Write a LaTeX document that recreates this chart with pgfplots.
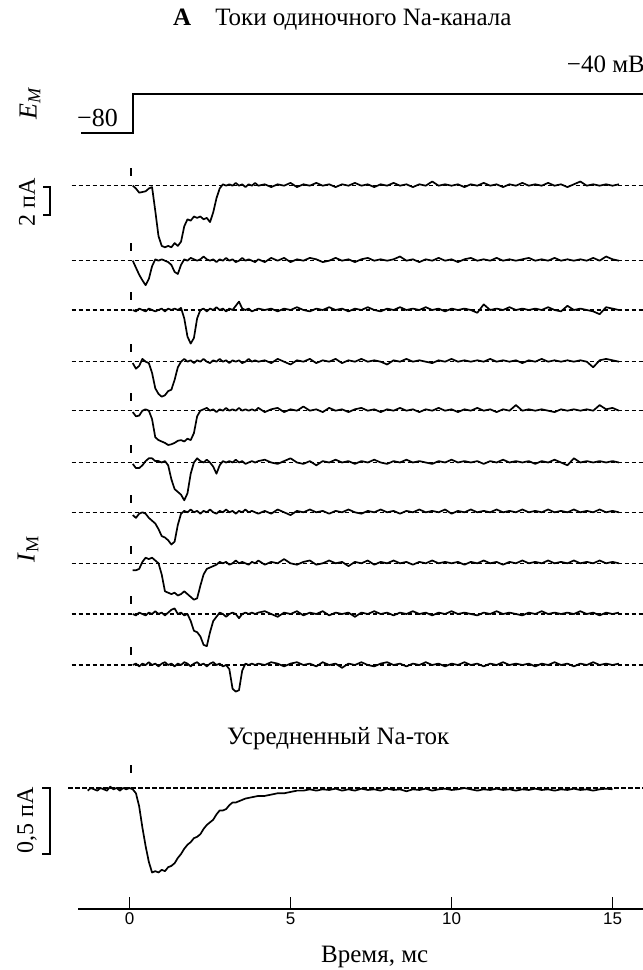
\documentclass[border=0pt]{standalone}
\usepackage{fontspec}
\setmainfont{Liberation Serif}
\setsansfont{Liberation Sans}
\usepackage{pgfplots}
\pgfplotsset{compat=1.18}
\usepackage{pgfplotstable}

% single-channel currents, pA (10 sweeps)
\pgfplotstableread{
t    a     b     c     d     e     f     g     h     i     j
0.1  0.0   0.0   0.0  -0.1  -0.1  -0.1  -0.2  -0.5   0.0   0.0
0.2 -0.2  -0.5  -0.1  -0.5  -0.4  -0.4  -0.4  -0.5  -0.1   0.1
0.3 -0.5  -1.0   0.1  -0.3  -0.35 -0.4  -0.1  -0.4   0.1  -0.1
0.4 -0.45 -1.4   0.0   0.2   0.0  -0.2   0.0   0.1   0.0   0.1
0.5 -0.4  -1.75 -0.1   0.0   0.1   0.1  -0.1   0.4  -0.1   0.0
0.6 -0.2  -1.3   0.1  -0.1   0.0   0.3  -0.4   0.3   0.1   0.2
0.7 -0.1  -0.4   0.0  -0.8  -0.6   0.3  -0.6   0.4   0.0   0.0
0.8 -1.8   0.1  -0.1  -1.9  -1.9   0.1  -0.8   0.2   0.2   0.1
0.9 -3.6   0.0   0.0  -2.3  -2.1   0.1  -1.2   0.0   0.0  -0.1
1.0 -4.3   0.1   0.1  -2.5  -2.2   0.0  -1.7  -0.8   0.1   0.1
1.1 -4.4   0.0  -0.1  -2.4  -2.3   0.1  -1.8  -2.0  -0.1   0.2
1.2 -4.3  -0.1   0.1  -2.1  -2.45 -0.2  -2.0  -2.1   0.1   0.0
1.3 -4.4  -0.3   0.0  -2.0  -2.4  -1.2  -2.3  -2.2   0.3   0.1
1.4 -4.1  -0.8   0.1  -1.3  -2.3  -1.9  -2.1  -2.1   0.4  -0.1
1.5 -4.3  -0.95  0.0  -0.4  -2.15 -2.1  -0.9  -2.3   0.0   0.1
1.6 -4.0  -0.3   0.15  0.0  -2.1  -2.3  -0.1  -2.2   0.1   0.0
1.7 -2.9   0.1  -0.6   0.2  -2.2  -2.7   0.1  -2.0  -0.1   0.2
1.8 -2.4   0.0  -1.9   0.0  -2.0  -2.2   0.0  -2.2   0.0   0.1
1.9 -2.5   0.2  -2.4   0.1  -2.1  -0.8   0.2  -2.4  -0.5  -0.1
2.0 -2.2   0.1  -2.0  -0.1  -1.6   0.0   0.0  -2.6  -1.2   0.1
2.1 -2.3   0.0  -0.6   0.1  -0.4   0.3   0.1  -2.5  -1.3   0.2
2.2 -2.2   0.1   0.0   0.0   0.0   0.1  -0.1  -1.6  -1.6   0.0
2.3 -2.4   0.3   0.1   0.2   0.1   0.0   0.1  -0.8  -2.2   0.1
2.4 -2.3   0.1  -0.1   0.0   0.2   0.2   0.0  -0.4  -2.3  -0.1
2.5 -2.6   0.0   0.1  -0.1   0.0   0.0   0.2  -0.3  -1.3   0.1
2.6 -1.9   0.1   0.0   0.1   0.1  -0.3   0.0  -0.2  -0.5   0.2
2.7 -0.9  -0.1   0.2   0.0  -0.1  -0.8  -0.1  -0.1  -0.2   0.0
2.8 -0.2   0.1   0.0   0.2   0.1  -0.2   0.1   0.1   0.1   0.1
2.9  0.1   0.0   0.1   0.0   0.0   0.1   0.0   0.0   0.0  -0.1
3.0  0.0   0.2  -0.1   0.1   0.2   0.0   0.2   0.1  -0.2   0.0
3.1  0.1   0.0   0.1  -0.1   0.0   0.1   0.0  -0.1   0.0  -0.3
3.2  0.0   0.1   0.0   0.1   0.1   0.0   0.1   0.0   0.1  -1.7
3.3  0.2  -0.1   0.3   0.0   0.0   0.2  -0.1   0.2   0.0  -1.9
3.4  0.0   0.0   0.6   0.1   0.2   0.0   0.1   0.0  -0.3  -1.8
3.5  0.1   0.2   0.1  -0.1   0.0   0.1   0.0   0.1   0.0  -0.4
3.6 -0.1   0.0   0.0   0.0   0.1  -0.1   0.2   0.0   0.1   0.1
3.7  0.1   0.1   0.1   0.2   0.0   0.0   0.0  -0.1   0.0   0.0
3.8  0.0   0.0  -0.1   0.0   0.1   0.1   0.1   0.1   0.1   0.1
3.9  0.2  -0.1   0.0   0.1   0.0   0.0   0.0   0.0   0.0   0.0
4.0  0.0   0.1   0.1   0.0   0.2   0.1  -0.1   0.2   0.1   0.1
4.2  0.1  -0.1   0.0   0.1  -0.1   0.2   0.1  -0.1   0.2   0.0
4.4 -0.1   0.2   0.1  -0.1   0.1   0.0  -0.1   0.1   0.0   0.2
4.6  0.1   0.0  -0.1   0.2   0.2  -0.1   0.2   0.0  -0.2   0.1
4.8  0.0   0.2   0.1   0.0  -0.1   0.1   0.0   0.3   0.1  -0.1
5.0  0.2  -0.1   0.0  -0.2   0.1   0.3  -0.2   0.0   0.0   0.1
5.2 -0.1   0.1   0.2   0.1   0.0   0.0   0.1  -0.1   0.2   0.2
5.4  0.1   0.0   0.0   0.0   0.3  -0.1   0.0   0.1  -0.1   0.0
5.6  0.0   0.2  -0.1   0.2   0.0   0.1   0.2   0.2   0.1   0.1
5.8  0.2   0.1   0.1  -0.1   0.1  -0.2   0.0  -0.1   0.0  -0.1
6.0  0.0  -0.1   0.0   0.1  -0.1   0.1   0.1   0.0   0.2   0.2
6.2  0.1   0.0   0.2   0.0   0.2   0.0  -0.1   0.2  -0.1   0.0
6.4 -0.1   0.2   0.0   0.2   0.0   0.2   0.1   0.0   0.1   0.1
6.6  0.1   0.0   0.1  -0.1   0.1   0.0   0.0   0.1   0.0  -0.2
6.8  0.0   0.1  -0.1   0.1  -0.1   0.1   0.2  -0.2   0.1   0.1
7.0  0.2  -0.1   0.1   0.0   0.1  -0.1   0.0   0.1  -0.2   0.0
7.2  0.0   0.1   0.0   0.2   0.2   0.1  -0.1   0.0   0.1   0.2
7.4  0.1   0.2   0.2   0.0   0.0   0.0   0.1   0.2   0.0   0.0
7.6 -0.1   0.0   0.0   0.1   0.1   0.2   0.0  -0.1   0.2  -0.1
7.8  0.1   0.1  -0.1   0.0  -0.1   0.0   0.2   0.1   0.0   0.1
8.0  0.0   0.0   0.1  -0.2   0.1  -0.1   0.0   0.0   0.1   0.2
8.2  0.2   0.1   0.0   0.1   0.0   0.1   0.1   0.2  -0.1   0.0
8.4  0.0   0.3   0.2   0.0   0.2   0.0  -0.1   0.0   0.1   0.1
8.6  0.1   0.0   0.0   0.2   0.0   0.2   0.1   0.1   0.0  -0.1
8.8 -0.1   0.1   0.1   0.0   0.1   0.0   0.0  -0.1   0.2   0.1
9.0  0.1  -0.1   0.0   0.1  -0.1   0.1   0.2   0.1   0.0   0.0
9.2  0.0   0.1   0.2   0.0   0.1   0.0   0.0   0.0   0.1   0.2
9.4  0.3   0.0   0.0  -0.1   0.0  -0.1   0.1   0.2  -0.1   0.0
9.6  0.0   0.2   0.1   0.1   0.2   0.1   0.0   0.0   0.1   0.1
9.8  0.1   0.0  -0.1   0.0   0.0   0.0   0.2   0.1   0.0  -0.1
10.0 0.0   0.1   0.1   0.2   0.1   0.2  -0.1   0.0   0.2   0.1
10.2 0.1  -0.1   0.0   0.0  -0.1   0.0   0.1   0.1   0.0   0.0
10.4 -0.1  0.1   0.1   0.1   0.1   0.1   0.0  -0.1   0.1   0.2
10.6 0.1   0.2   0.0   0.0   0.0   0.0   0.2   0.1   0.0   0.0
10.8 0.0   0.0  -0.2   0.1   0.2   0.1   0.0   0.0  -0.1   0.1
11.0 0.2   0.1   0.4   0.0   0.0  -0.1   0.1   0.2   0.1  -0.1
11.2 0.0   0.0   0.0   0.2   0.1   0.1   0.0   0.0   0.0   0.1
11.4 0.1   0.2   0.1   0.0  -0.1   0.0   0.2   0.1   0.2   0.0
11.6 -0.1  0.0   0.0   0.1   0.1   0.2   0.0  -0.1   0.0   0.2
11.8 0.1   0.1   0.2   0.0   0.0   0.0   0.1   0.1   0.1   0.0
12.0 0.0   0.0   0.0   0.1   0.4   0.1   0.0   0.0   0.0   0.1
12.2 0.2   0.1   0.1  -0.1   0.0   0.0   0.2   0.2  -0.1   0.0
12.4 0.0   0.2   0.0   0.1   0.1   0.1   0.0   0.0   0.1   0.1
12.6 0.1   0.0   0.1   0.0   0.0  -0.1   0.1   0.1   0.0  -0.1
12.8 0.0   0.1   0.0   0.2   0.1   0.1   0.0   0.0   0.2   0.1
13.0 0.2   0.0   0.2   0.0   0.0   0.0   0.2   0.2   0.0   0.0
13.2 0.0   0.2   0.0   0.1  -0.1   0.2   0.0   0.0   0.1   0.2
13.4 0.1   0.0  -0.1   0.0   0.1   0.0   0.1   0.1   0.0   0.0
13.6 -0.1  0.1   0.3   0.1   0.0  -0.2   0.0   0.0   0.1   0.1
13.8 0.1   0.0   0.0   0.0   0.1   0.3   0.2   0.2   0.0  -0.1
14.0 0.3   0.1   0.1   0.1   0.0   0.0   0.0   0.0   0.2   0.1
14.2 0.0   0.0   0.0   0.0   0.1   0.1   0.1   0.1   0.0   0.0
14.4 0.1   0.2  -0.1  -0.4   0.0   0.0   0.0   0.0   0.1   0.2
14.6 0.0   0.0  -0.3   0.1   0.4   0.1   0.2   0.2  -0.1   0.0
14.8 0.1   0.3   0.2   0.2   0.1   0.0   0.0   0.0   0.1   0.1
15.0 0.0   0.1   0.1   0.1   0.2   0.1   0.1   0.1   0.0   0.0
15.2 0.1   0.0   0.0   0.0   0.0   0.0   0.0   0.0   0.1   0.1
}\traces

% averaged Na current, pA
\pgfplotstableread{
t I
-1.3 -0.02
-1.2 0.0
-1.1 -0.01
-1.0 -0.02
-0.9 0.0
-0.8 -0.01
-0.7 -0.02
-0.6 0.01
-0.5 -0.01
-0.4 0.0
-0.3 -0.02
-0.2 0.0
-0.1 -0.01
0.0 0.0
0.1 -0.01
0.2 -0.04
0.3 -0.14
0.4 -0.30
0.5 -0.44
0.6 -0.56
0.7 -0.64
0.8 -0.63
0.9 -0.64
1.0 -0.62
1.1 -0.63
1.2 -0.60
1.3 -0.59
1.4 -0.57
1.5 -0.53
1.6 -0.50
1.7 -0.46
1.8 -0.43
1.9 -0.41
2.0 -0.38
2.1 -0.37
2.2 -0.35
2.3 -0.31
2.4 -0.28
2.5 -0.26
2.6 -0.24
2.7 -0.20
2.8 -0.17
2.9 -0.17
3.0 -0.16
3.1 -0.13
3.2 -0.11
3.3 -0.11
3.4 -0.10
3.5 -0.09
3.6 -0.08
3.8 -0.07
4.0 -0.06
4.2 -0.06
4.4 -0.05
4.6 -0.04
4.8 -0.04
5.0 -0.03
5.2 -0.02
5.4 -0.02
5.6 -0.01
5.8 -0.02
6.0 -0.01
6.2 -0.015
6.4 -0.005
6.6 -0.02
6.8 -0.01
7.0 -0.02
7.2 -0.005
7.4 -0.015
7.6 -0.01
7.8 -0.02
8.0 -0.005
8.2 -0.015
8.4 -0.01
8.6 -0.025
8.8 -0.01
9.0 -0.015
9.2 -0.005
9.4 -0.02
9.6 -0.01
9.8 -0.005
10.0 -0.015
10.2 -0.01
10.4 0.0
10.6 -0.01
10.8 -0.02
11.0 -0.01
11.2 -0.015
11.4 -0.005
11.6 -0.015
11.8 -0.01
12.0 -0.02
12.2 -0.01
12.4 -0.015
12.6 -0.005
12.8 -0.015
13.0 -0.01
13.2 -0.02
13.4 -0.01
13.6 -0.015
13.8 -0.005
14.0 -0.015
14.2 -0.01
14.4 -0.02
14.6 -0.01
14.8 -0.005
15.0 -0.01
}\avg

% command voltage, mV
\pgfplotstableread{
t V
-1.5 -80
0.1 -80
0.1 -40
15.95 -40
}\volt

\begin{document}
\begin{tikzpicture}[x=1pt,y=1pt]
\begin{axis}[
  at={(78pt,61pt)}, anchor=south west,
  scale only axis, width=565.11pt, height=909pt,
  xmin=-1.6, xmax=15.95, ymin=61, ymax=970,
  clip=false,
  axis x line*=bottom, axis y line=none,
  x axis line style={-, line width=1.6pt},
  xtick={0,5,10,15}, xticklabels={0,5,10,15},
  ytick=\empty,
  tick align=inside, major tick length=12pt,
  tick style={line width=1.5pt, black},
  xticklabel style={font=\fontsize{17}{17}\sffamily, yshift=0pt},
  trace/.style={black, line width=1.7pt, line join=round},
  base/.style={black, line width=1.5pt, dash pattern=on 4.5pt off 2.5pt},
  stim/.style={black, line width=1.5pt},
]
% dashed baselines
\addplot[base] coordinates {(-1.8,784.3) (15.95,784.3)};
\addplot[base] coordinates {(-1.8,709.3) (15.95,709.3)};
\addplot[base] coordinates {(-1.8,660) (15.95,660)};
\addplot[base] coordinates {(-1.8,608.3) (15.95,608.3)};
\addplot[base] coordinates {(-1.8,559.3) (15.95,559.3)};
\addplot[base] coordinates {(-1.8,507.5) (15.95,507.5)};
\addplot[base] coordinates {(-1.8,457.7) (15.95,457.7)};
\addplot[base] coordinates {(-1.8,406.7) (15.95,406.7)};
\addplot[base] coordinates {(-1.8,356) (15.95,356)};
\addplot[base] coordinates {(-1.8,305) (15.95,305)};
\addplot[base] coordinates {(-1.9,182) (15.95,182)};
% stimulus marks
\addplot[stim] coordinates {(0.05,794) (0.05,802)};
\addplot[stim] coordinates {(0.05,719) (0.05,727)};
\addplot[stim] coordinates {(0.05,670) (0.05,678)};
\addplot[stim] coordinates {(0.05,618) (0.05,626)};
\addplot[stim] coordinates {(0.05,569) (0.05,577)};
\addplot[stim] coordinates {(0.05,517) (0.05,525)};
\addplot[stim] coordinates {(0.05,467) (0.05,475)};
\addplot[stim] coordinates {(0.05,416) (0.05,424)};
\addplot[stim] coordinates {(0.05,366) (0.05,374)};
\addplot[stim] coordinates {(0.05,315) (0.05,323)};
\addplot[stim] coordinates {(0.05,197) (0.05,205)};
% voltage step
\addplot[black, line width=1.7pt] table[x=t, y expr={837+(\thisrow{V}+80)*39/40}] {\volt};
% single-channel traces (14 pt per pA)
\addplot[trace] table[x=t, y expr={784.3+14*\thisrow{a}}] {\traces};
\addplot[trace] table[x=t, y expr={709.3+14*\thisrow{b}}] {\traces};
\addplot[trace] table[x=t, y expr={660+14*\thisrow{c}}] {\traces};
\addplot[trace] table[x=t, y expr={608.3+14*\thisrow{d}}] {\traces};
\addplot[trace] table[x=t, y expr={559.3+14*\thisrow{e}}] {\traces};
\addplot[trace] table[x=t, y expr={507.5+14*\thisrow{f}}] {\traces};
\addplot[trace] table[x=t, y expr={457.7+14*\thisrow{g}}] {\traces};
\addplot[trace] table[x=t, y expr={406.7+14*\thisrow{h}}] {\traces};
\addplot[trace] table[x=t, y expr={356+14*\thisrow{i}}] {\traces};
\addplot[trace] table[x=t, y expr={305+14*\thisrow{j}}] {\traces};
% averaged current (132 pt per pA)
\addplot[trace] table[x=t, y expr={182+132*\thisrow{I}}] {\avg};
% scale bars
\addplot[black, line width=1.5pt] coordinates {(-2.686,783) (-2.469,783) (-2.469,755) (-2.686,755)};
\addplot[black, line width=1.5pt] coordinates {(-2.717,182) (-2.469,182) (-2.469,116) (-2.717,116)};
\end{axis}
\begin{scope}[every node/.style={inner sep=0pt, font=\fontsize{24}{28}\selectfont}]
\node[anchor=base west, font=\fontsize{25}{29}\selectfont] at (173,944) {\textbf{A}\hspace{24pt}Токи одиночного Na-канала};
\node[anchor=base east, font=\fontsize{25}{29}\selectfont] at (645,897) {−40 мВ};
\node[anchor=base west, font=\fontsize{26}{30}\selectfont] at (77,843) {−80};
\node[rotate=90, font=\fontsize{26}{30}\selectfont] at (30,867) {\textit{E}\textsubscript{\textit{M}}};
\node[rotate=90] at (27,768) {2 пА};
\node[rotate=90, font=\fontsize{26}{30}\selectfont] at (28,421) {\textit{I}\textsubscript{M}};
\node[rotate=90] at (27,150) {0,5 пА};
\node[anchor=base west, font=\fontsize{25}{29}\selectfont] at (227,225) {Усредненный Na-ток};
\node[anchor=base west, font=\fontsize{25}{29}\selectfont] at (321,7) {Время, мс};
\end{scope}
\pgfresetboundingbox
\useasboundingbox (0,0) rectangle (643,970);
\end{tikzpicture}
\end{document}
